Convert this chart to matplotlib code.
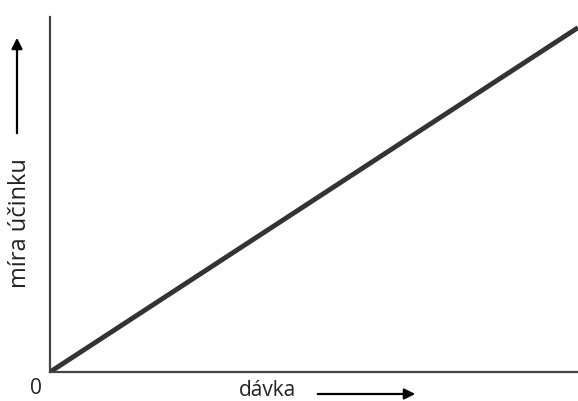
import matplotlib.pyplot as plt

# dose-response: linear relation (arbitrary units)
dose = [0, 10]
effect = [0, 9.7]

plt.rcParams['font.family'] = ['Open Sans', 'DejaVu Sans']

fig = plt.figure(figsize=(5.78, 4.01), dpi=100)
ax = fig.add_axes([50 / 578, 29 / 401, 528 / 578, 355 / 401])

ax.plot(dose, effect, color='#333333', linewidth=3.5, solid_capstyle='butt')
ax.set_xlim(0, 10)
ax.set_ylim(0, 10)

for side in ['top', 'right']:
    ax.spines[side].set_visible(False)
for side in ['left', 'bottom']:
    ax.spines[side].set_color('#444444')
    ax.spines[side].set_linewidth(1.6)
ax.set_xticks([])
ax.set_yticks([])

# labels with arrows, placed in figure pixel space
W, H = 578, 401
fig.text(36 / W, 1 - 389 / H, '0', fontsize=15, ha='center', va='center', color='#222222')
fig.text(268 / W, 1 - 390 / H, 'dávka', fontsize=15, ha='center', va='center', color='#222222')
fig.text(20 / W, 1 - 223 / H, 'míra účinku', fontsize=17, rotation=90,
         ha='center', va='center', color='#222222')

ax.annotate('', xy=(418 / W, 1 - 394 / H), xytext=(315 / W, 1 - 394 / H),
            xycoords='figure fraction', textcoords='figure fraction',
            arrowprops=dict(arrowstyle='-|>', color='black', lw=1.6, mutation_scale=16))
ax.annotate('', xy=(17 / W, 1 - 35 / H), xytext=(17 / W, 1 - 136 / H),
            xycoords='figure fraction', textcoords='figure fraction',
            arrowprops=dict(arrowstyle='-|>', color='black', lw=1.6, mutation_scale=16))

fig.savefig('out.png', dpi=100)
